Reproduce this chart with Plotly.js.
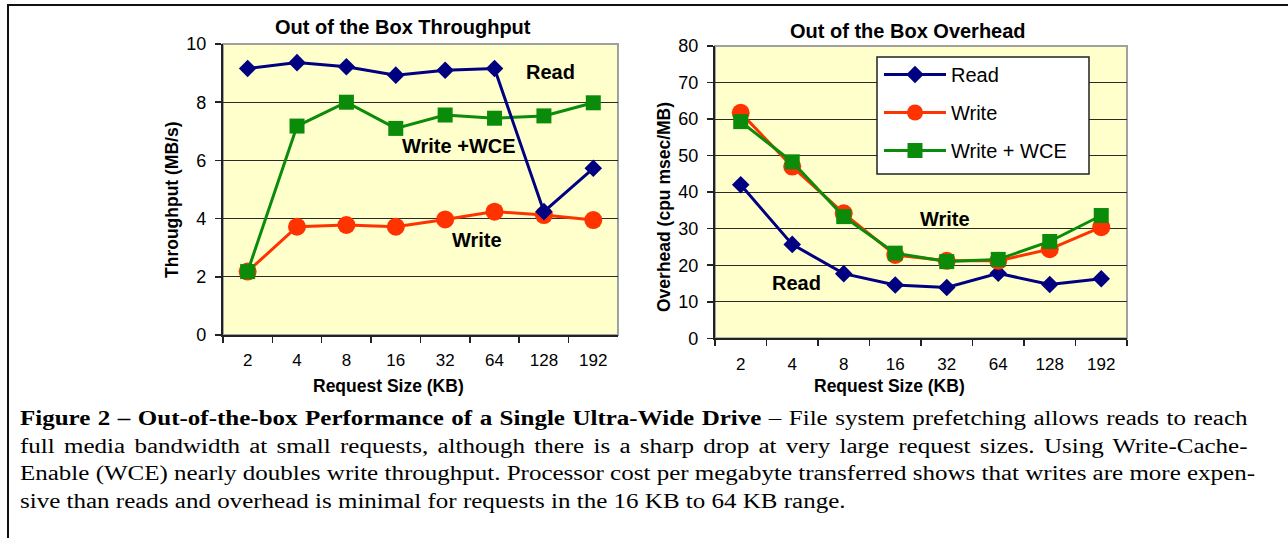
<!DOCTYPE html>
<html>
<head>
<meta charset="utf-8">
<script src="https://cdn.plot.ly/plotly-3.0.1.min.js"></script>
<style>
  html, body { margin: 0; padding: 0; background: #ffffff; }
  body { width: 1288px; height: 538px; position: relative; overflow: hidden; }
  #frame { position: absolute; left: 7px; top: 4px; width: 1400px; height: 700px;
           border-left: 2px solid #111; border-top: 2px solid #111; }
  #chart { position: absolute; left: 0; top: 0; width: 1288px; height: 538px; }
  #caption { position: absolute; left: 20px; top: 405px; width: 982px;
             transform: scaleX(1.25); transform-origin: 0 0;
             font-family: "Liberation Serif", "Times New Roman", serif; font-size: 20px;
             line-height: 27.5px; color: #000; }
  #caption .ln { white-space: nowrap; text-align: justify; text-align-last: justify; }
  #caption .last { white-space: nowrap; text-align: left; }
</style>
</head>
<body>
<div id="frame"></div>
<div id="chart"></div>
<div id="caption">
  <div class="ln"><b>Figure 2 – Out-of-the-box Performance of a Single Ultra-Wide Drive</b> – File system prefetching allows reads to reach</div>
  <div class="ln">full media bandwidth at small requests, although there is a sharp drop at very large request sizes. Using Write-Cache-</div>
  <div class="ln">Enable (WCE) nearly doubles write throughput. Processor cost per megabyte transferred shows that writes are more expen-</div>
  <div class="last">sive than reads and overhead is minimal for requests in the 16 KB to 64 KB range.</div>
</div>
<script>
// ---- data ----
const categories = ['2', '4', '8', '16', '32', '64', '128', '192'];
const tputRead  = [9.16, 9.36, 9.22, 8.93, 9.10, 9.16, 4.24, 5.73];
const tputWrite = [2.18, 3.72, 3.78, 3.72, 3.97, 4.24, 4.12, 3.95];
const tputWCE   = [2.18, 7.18, 8.00, 7.10, 7.56, 7.45, 7.53, 7.98];
const ovhRead   = [42.0, 25.7, 17.7, 14.6, 13.9, 17.8, 14.7, 16.3];
const ovhWrite  = [61.7, 47.0, 34.2, 22.8, 21.2, 21.2, 24.4, 30.4];
const ovhWCE    = [59.3, 48.3, 33.3, 23.3, 21.0, 21.6, 26.5, 33.6];
const seriesNames = ['Read', 'Write', 'Write + WCE'];

// ---- styles ----
const FONT = 'Liberation Sans, Arial, sans-serif';
const cRead = '#000080', cWrite = '#ff3300', cWCE = '#0a8c0a';
const styleRead  = {line: {color: cRead, width: 3},  marker: {symbol: 'diamond', size: 13.5, color: cRead}};
const styleWrite = {line: {color: cWrite, width: 3}, marker: {symbol: 'circle', size: 18, color: cWrite}};
const styleWCE   = {line: {color: cWCE, width: 3},   marker: {symbol: 'square', size: 15, color: cWCE}};

function tr(y, name, st, xa, ya, show, grp) {
  return Object.assign({
    type: 'scatter', mode: 'lines+markers', x: categories, y: y, name: name,
    xaxis: xa, yaxis: ya, showlegend: show, legendgroup: grp, cliponaxis: false
  }, JSON.parse(JSON.stringify(st)));
}

const data = [
  tr(tputWrite, seriesNames[1], styleWrite, 'x', 'y', false, 'g2'),
  tr(tputWCE, seriesNames[2], styleWCE, 'x', 'y', false, 'g3'),
  tr(tputRead, seriesNames[0], styleRead, 'x', 'y', false, 'g1'),
  tr(ovhRead, seriesNames[0], styleRead, 'x2', 'y2', true, 'g1'),
  tr(ovhWrite, seriesNames[1], styleWrite, 'x2', 'y2', true, 'g2'),
  tr(ovhWCE, seriesNames[2], styleWCE, 'x2', 'y2', true, 'g3')
];

const xCommon = {
  type: 'category', range: [-0.5, 7.5], tickson: 'boundaries', ticks: 'outside', ticklen: 6,
  tickcolor: '#222', tickwidth: 1.5, showline: true, linecolor: '#222', linewidth: 2,
  showgrid: false, zeroline: false, ticklabelstandoff: 9,
  tickfont: {family: FONT, size: 17, color: '#000'}
};
const yCommon = {
  ticks: 'outside', ticklen: 6, tickcolor: '#222', tickwidth: 1.5, showline: true,
  linecolor: '#222', linewidth: 2, showgrid: true, gridcolor: '#2a2a2a', gridwidth: 1,
  zeroline: false, ticklabelstandoff: 5,
  tickfont: {family: FONT, size: 18, color: '#000'}
};
const boldFont = (s) => ({family: FONT, size: s, color: '#000', weight: 'bold'});
const px = (v) => v / 1288, py = (v) => 1 - v / 538;

function note(text, xref, yref, x, y, size, angle) {
  return {text: text, xref: xref, yref: yref, x: x, y: y, xanchor: 'center', yanchor: 'middle',
          showarrow: false, textangle: angle || 0, font: boldFont(size)};
}

const layout = {
  width: 1288, height: 538,
  margin: {l: 0, r: 0, t: 0, b: 0},
  paper_bgcolor: 'rgba(0,0,0,0)', plot_bgcolor: '#ffffcc',
  showlegend: true,
  xaxis: Object.assign({}, xCommon, {domain: [0.1731, 0.4798], anchor: 'y'}),
  yaxis: Object.assign({}, yCommon, {domain: [0.3773, 0.9182], anchor: 'x', range: [0, 10], dtick: 2}),
  xaxis2: Object.assign({}, xCommon, {domain: [0.5551, 0.875], anchor: 'y2'}),
  yaxis2: Object.assign({}, yCommon, {domain: [0.3712, 0.9145], anchor: 'x2', range: [0, 80], dtick: 10}),
  legend: {
    x: px(879), y: py(55), xanchor: 'left', yanchor: 'top',
    bgcolor: 'rgba(0,0,0,0)', borderwidth: 0,
    font: {family: FONT, size: 20, color: '#000'},
    traceorder: 'grouped', tracegroupgap: 9, itemwidth: 62,
    itemsizing: 'trace'
  },
  shapes: [
    {type: 'rect', xref: 'x domain', yref: 'y domain', x0: 0, x1: 1, y0: 0, y1: 1,
     line: {color: '#a0a0a0', width: 2}, layer: 'below'},
    {type: 'rect', xref: 'x2 domain', yref: 'y2 domain', x0: 0, x1: 1, y0: 0, y1: 1,
     line: {color: '#a0a0a0', width: 2}, layer: 'below'},
    {type: 'rect', xref: 'paper', yref: 'paper', x0: px(877), x1: px(1089), y0: py(174), y1: py(57),
     fillcolor: '#ffffff', line: {color: '#222', width: 1.5}, layer: 'above'}
  ],
  annotations: [
    note('Out of the Box Throughput', 'paper', 'paper', px(403), py(27.5), 20),
    note('Out of the Box Overhead', 'paper', 'paper', px(908), py(30.5), 20),
    note('Request Size (KB)', 'paper', 'paper', px(388), py(386), 17.5),
    note('Request Size (KB)', 'paper', 'paper', px(889), py(386), 17.5),
    note('Throughput (MB/s)', 'paper', 'paper', px(172), py(200), 17.5, -90),
    note('Overhead (cpu msec/MB)', 'paper', 'paper', px(664), py(207), 17.5, -90),
    note('Read', 'x', 'y', 6.14, 9.04, 20),
    note('Write +WCE', 'x', 'y', 4.28, 6.5, 20),
    note('Write', 'x', 'y', 4.64, 3.26, 20),
    note('Write', 'x2', 'y2', 3.97, 32.6, 20),
    note('Read', 'x2', 'y2', 1.09, 15.1, 20)
  ]
};

Plotly.newPlot('chart', data, layout, {staticPlot: true, displayModeBar: false});
</script>
</body>
</html>
